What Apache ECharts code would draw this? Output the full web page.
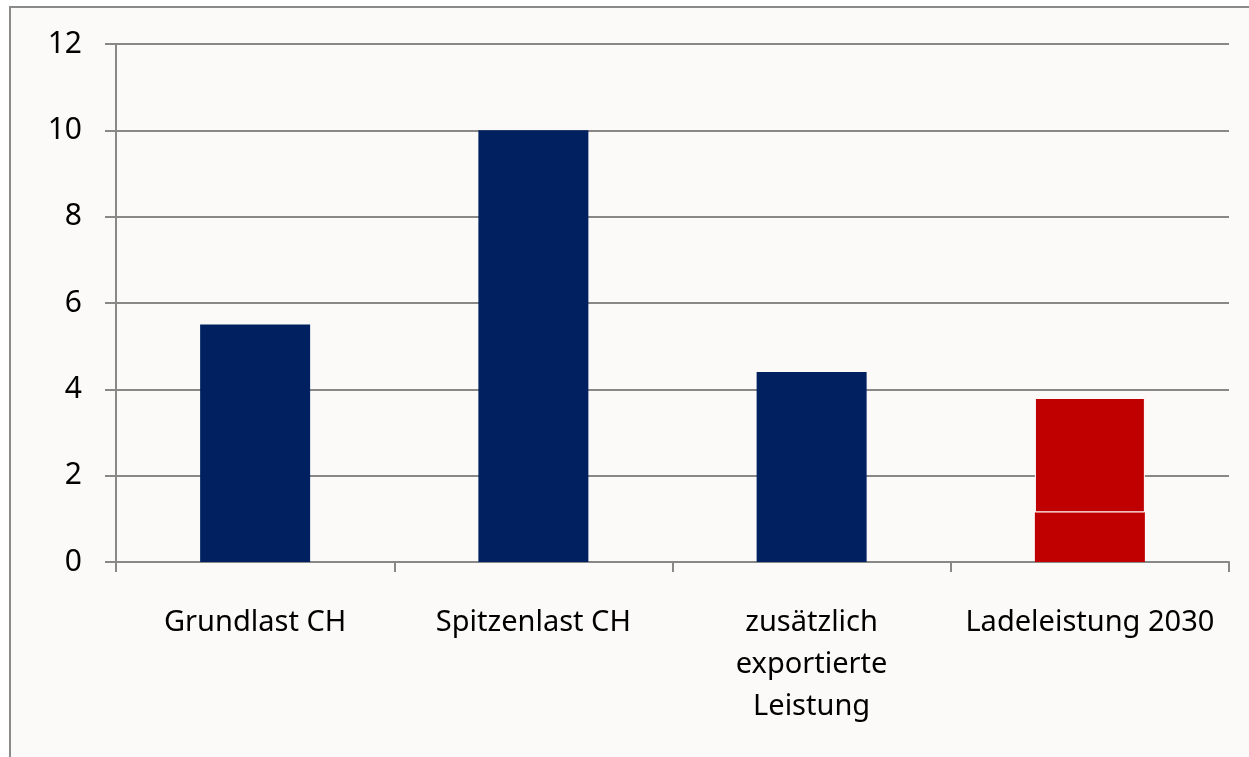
<!DOCTYPE html>
<html>
<head>
<meta charset="utf-8">
<script src="https://cdn.jsdelivr.net/npm/echarts@6/dist/echarts.min.js"></script>
<style>
html,body{margin:0;padding:0;background:#ffffff;}
#frame{position:absolute;left:9px;top:6px;width:1260px;height:780px;border-left:2px solid #8a8a8a;border-top:2px solid #8a8a8a;background:#fbfaf9;}
#chart{position:absolute;left:0;top:0;width:1249px;height:757px;}
</style>
</head>
<body>
<div id="frame"></div>
<div id="chart"></div>
<script>
const categories = ['Grundlast CH', 'Spitzenlast CH', 'zusätzlich\nexportierte\nLeistung', 'Ladeleistung 2030'];
const blueValues = [5.5, 10, 4.4, '-'];
const redLower = ['-', '-', '-', 1.15];
const redUpper = ['-', '-', '-', 2.65];
const yTicks = { min: 0, max: 12, interval: 2 };

const font = 'Noto Sans';
const chart = echarts.init(document.getElementById('chart'), null, { renderer: 'canvas' });
chart.setOption({
  backgroundColor: 'transparent',
  animation: false,
  grid: { left: 116, top: 44, right: 20, bottom: 195, containLabel: false },
  xAxis: {
    type: 'category',
    data: categories,
    axisLine: { show: true, lineStyle: { color: '#888888', width: 2 } },
    axisTick: { show: true, length: 10, alignWithLabel: false, lineStyle: { color: '#888888', width: 2 } },
    axisLabel: { color: '#000', fontFamily: font, fontSize: 29, lineHeight: 42, margin: 40, interval: 0 }
  },
  yAxis: {
    type: 'value',
    min: yTicks.min, max: yTicks.max, interval: yTicks.interval,
    axisLine: { show: true, lineStyle: { color: '#888888', width: 2 } },
    axisTick: { show: true, length: 11, lineStyle: { color: '#888888', width: 2 } },
    splitLine: { show: true, lineStyle: { color: '#888888', width: 2 } },
    axisLabel: { color: '#000', fontFamily: font, fontSize: 30, margin: 34 }
  },
  series: [
    { type: 'bar', stack: 's', data: blueValues, barWidth: 110, itemStyle: { color: '#002060' } },
    { type: 'bar', stack: 's', data: redLower, barWidth: 110, itemStyle: { color: '#c00000' } },
    { type: 'bar', stack: 's', data: redUpper, barWidth: 110, itemStyle: { color: '#c00000', borderColor: '#ffffff', borderWidth: 1 } }
  ]
});
</script>
</body>
</html>
